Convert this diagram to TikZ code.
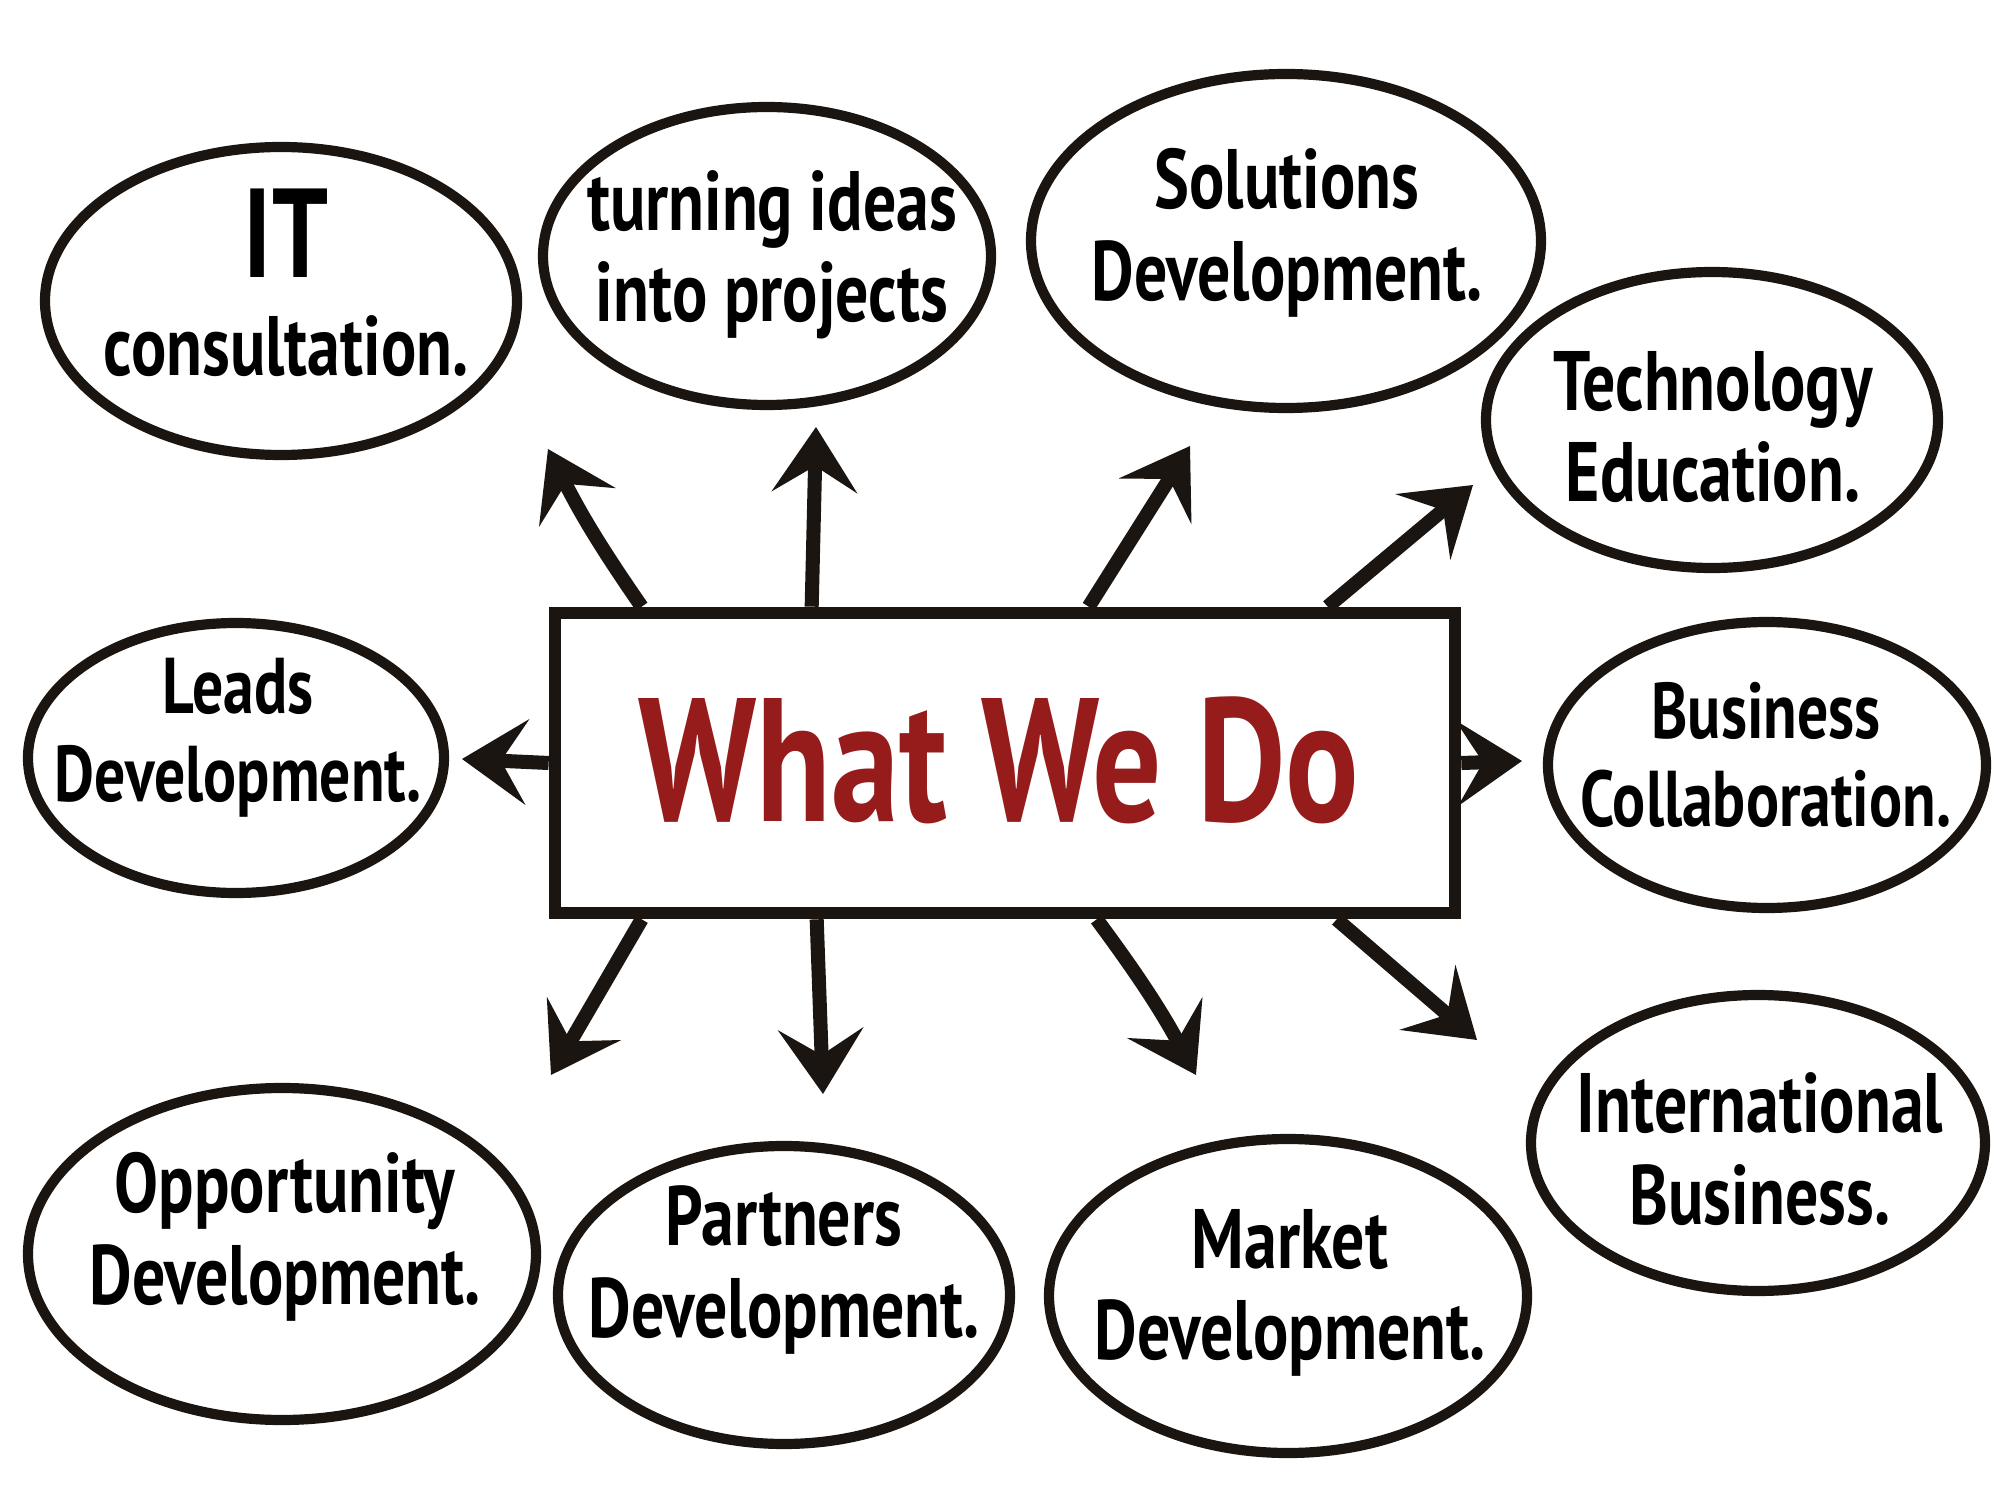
\documentclass[tikz,border=0pt]{standalone}
\usepackage{fontspec}
\newfontfamily\handfont[FakeStretch=0.78]{PT Sans}
\usetikzlibrary{shapes.geometric,arrows.meta,positioning}
\definecolor{inkblack}{HTML}{1A1511}
\definecolor{titlered}{HTML}{961B1B}
\tikzset{
  bubble/.style={ellipse, draw=inkblack, line width=2.9pt, inner sep=0pt},
  bubbletext/.style={align=center, inner sep=0pt, text=black,
    font=\handfont\bfseries\fontsize{24}{26}\selectfont},
  pointer/.style={draw=inkblack, line width=4pt,
    -{Stealth[length=6.5mm,width=8.5mm,inset=2.6mm]}},
  titletext/.style={font=\handfont\bfseries\fontsize{50}{50}\selectfont},
}
\begin{document}
\begin{tikzpicture}
    \useasboundingbox (0,0) rectangle (20,15);

    % Caja central
    \node[draw=inkblack, line width=3.6pt, minimum width=9.0cm, minimum height=3.0cm] (what) at (10.05,7.37) {};
    \node[titletext, text=titlered] (title) at (9.99,7.40) {What We Do};

    % Burbujas de arriba
    \node[bubble, minimum width=4.72cm, minimum height=3.08cm] (itcons) at (2.81,11.99) {};
    \node[bubbletext] (itconstext) at (2.86,12.17)
        {{\fontsize{36}{36}\selectfont IT}\\[2pt]consultation.};
    \node[bubble, minimum width=4.48cm, minimum height=2.98cm] (ideas) at (7.67,12.44) {};
    \node[bubbletext] (ideastext) at (7.72,12.45) {turning ideas\\into projects};
    \node[bubble, minimum width=5.10cm, minimum height=3.34cm] (solutions) at (12.86,12.59) {};
    \node[bubbletext] (solutionstext) at (12.87,12.67) {Solutions\\Development.};
    \node[bubble, minimum width=4.52cm, minimum height=2.96cm] (techedu) at (17.12,10.80) {};
    \node[bubbletext] (techedutext) at (17.13,10.73) {Technology\\Education.};

    % Burbujas de los lados
    \node[bubble, minimum width=4.16cm, minimum height=2.70cm] (leads) at (2.36,7.42) {};
    \node[bubbletext, font=\handfont\bfseries\fontsize{22.5}{25}\selectfont] (leadstext) at (2.38,7.62)
        {Leads\\Development.};
    \node[bubble, minimum width=4.38cm, minimum height=2.86cm] (bizcollab) at (17.67,7.35) {};
    \node[bubbletext, font=\handfont\bfseries\fontsize{22.5}{25}\selectfont] (bizcollabtext) at (17.66,7.45)
        {Business\\Collaboration.};

    % Burbujas de abajo
    \node[bubble, minimum width=5.08cm, minimum height=3.32cm] (opport) at (2.82,2.46) {};
    \node[bubbletext] (opporttext) at (2.85,2.63) {Opportunity\\Development.};
    \node[bubble, minimum width=4.52cm, minimum height=2.98cm] (partners) at (7.84,2.05) {};
    \node[bubbletext] (partnerstext) at (7.84,2.30) {Partners\\Development.};
    \node[bubble, minimum width=4.78cm, minimum height=3.14cm] (market) at (12.88,2.04) {};
    \node[bubbletext] (markettext) at (12.90,2.07) {Market\\Development.};
    \node[bubble, minimum width=4.54cm, minimum height=2.96cm] (intlbiz) at (17.58,3.57) {};
    \node[bubbletext] (intlbiztext) at (17.60,3.51) {International\\Business.};

    % Puntas de las flechas
    \coordinate (tipit) at (5.48,10.51);
    \coordinate (tipideas) at (8.16,10.73);
    \coordinate (tipsol) at (11.90,10.54);
    \coordinate (tiptech) at (14.73,10.15);
    \coordinate (tipleads) at (4.62,7.41);
    \coordinate (tipbiz) at (15.22,7.39);
    \coordinate (tipopp) at (5.51,4.25);
    \coordinate (tippart) at (8.23,4.06);
    \coordinate (tipmkt) at (11.96,4.25);
    \coordinate (tipintl) at (14.77,4.60);

    % Flechas desde la caja
    \draw[pointer] ([xshift=9.3mm]what.north west) to[bend left=4] (tipit);
    \draw[pointer] ([xshift=26.3mm]what.north west) -- (tipideas);
    \draw[pointer] ([xshift=54mm]what.north west) -- (tipsol);
    \draw[pointer] ([xshift=77.9mm]what.north west) -- (tiptech);
    \draw[pointer] (what.west) -- (tipleads);
    \draw[pointer] (what.east) -- (tipbiz);
    \draw[pointer] ([xshift=9.3mm]what.south west) -- (tipopp);
    \draw[pointer] ([xshift=26.8mm]what.south west) -- (tippart);
    \draw[pointer] ([xshift=54.8mm]what.south west) to[bend left=4] (tipmkt);
    \draw[pointer] ([xshift=78.8mm]what.south west) -- (tipintl);

\end{tikzpicture}
\end{document}
